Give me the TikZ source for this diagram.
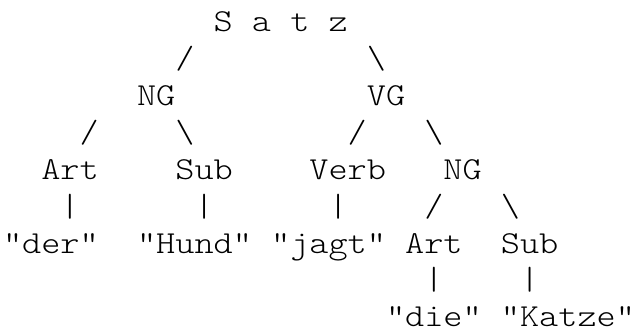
\documentclass[tikz,border=0pt]{standalone}
\usepackage{fontspec}
\newfontfamily\asciimono[FakeStretch=1.14]{Latin Modern Mono Light}
\tikzset{tok/.style={anchor=base west,inner sep=0pt,outer sep=0pt,text depth=0pt,font=\asciimono\fontsize{32pt}{37pt}\selectfont,text=black}}
\newcommand\tok[4]{\node[tok] (#1) at ({3+19.15*#2},{299-36.85*(#3-1)}) {#4};}
\begin{document}
\begin{tikzpicture}[x=1pt,y=1pt]
\useasboundingbox (0,0) rectangle (636,331);
% row 1
\tok{satz}{11}{1}{S a t z}
% row 2
\tok{s1}{9}{2}{/}
\tok{s2}{19}{2}{\textbackslash}
% row 3
\tok{ng1}{7}{3}{NG}
\tok{vg}{19}{3}{VG}
% row 4
\tok{s3}{4}{4}{/}
\tok{s4}{9}{4}{\textbackslash}
\tok{s5}{18}{4}{/}
\tok{s6}{22}{4}{\textbackslash}
% row 5
\tok{art1}{2}{5}{Art}
\tok{sub1}{9}{5}{Sub}
\tok{verb}{16}{5}{Verb}
\tok{ng2}{23}{5}{NG}
% row 6
\tok{b1}{3}{6}{|}
\tok{b2}{10}{6}{|}
\tok{b3}{17}{6}{|}
\tok{s7}{22}{6}{/}
\tok{s8}{26}{6}{\textbackslash}
% row 7
\tok{der}{0}{7}{"der"}
\tok{hund}{7}{7}{"Hund"}
\tok{jagt}{14}{7}{"jagt"}
\tok{art2}{21}{7}{Art}
\tok{sub2}{26}{7}{Sub}
% row 8
\tok{b4}{22}{8}{|}
\tok{b5}{27}{8}{|}
% row 9
\tok{die}{20}{9}{"die"}
\tok{katze}{26}{9}{"Katze"}
\end{tikzpicture}
\end{document}
